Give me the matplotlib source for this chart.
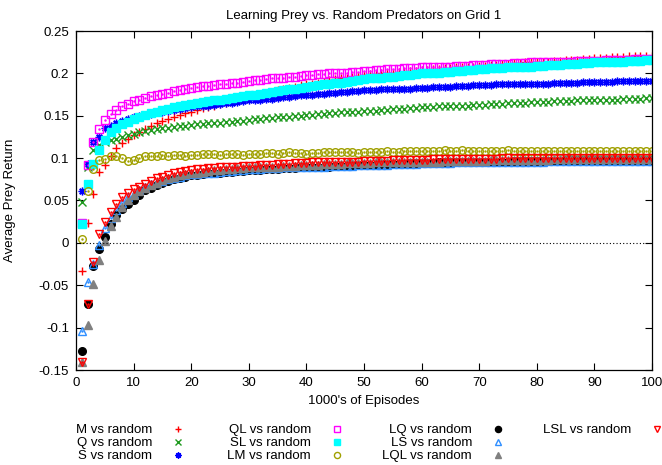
import matplotlib
matplotlib.use("Agg")
import matplotlib.pyplot as plt
from matplotlib.ticker import FormatStrFormatter, MultipleLocator
import numpy as np

plt.rcParams['font.family'] = ['Liberation Sans', 'DejaVu Sans']

episodes = list(range(1, 101))

m_vs_random = [
    -0.033, 0.024, 0.058, 0.084, 0.092, 0.102, 0.112, 0.118, 0.122, 0.127,
    0.131, 0.134, 0.138, 0.141, 0.144, 0.146, 0.149, 0.151, 0.153, 0.155,
    0.157, 0.159, 0.160, 0.162, 0.164, 0.165, 0.167, 0.168, 0.170, 0.172,
    0.173, 0.175, 0.176, 0.178, 0.180, 0.181, 0.183, 0.184, 0.186, 0.187,
    0.188, 0.189, 0.190, 0.192, 0.193, 0.194, 0.195, 0.196, 0.197, 0.198,
    0.199, 0.199, 0.200, 0.201, 0.201, 0.202, 0.202, 0.203, 0.203, 0.204,
    0.204, 0.205, 0.205, 0.206, 0.206, 0.207, 0.207, 0.208, 0.208, 0.209,
    0.209, 0.210, 0.210, 0.211, 0.211, 0.212, 0.212, 0.213, 0.213, 0.214,
    0.214, 0.214, 0.215, 0.215, 0.216, 0.216, 0.216, 0.217, 0.217, 0.218,
    0.218, 0.218, 0.219, 0.219, 0.219, 0.220, 0.220, 0.220, 0.221, 0.221]

q_vs_random = [
    0.048, 0.090, 0.110, 0.116, 0.119, 0.121, 0.123, 0.125, 0.127, 0.129,
    0.131, 0.132, 0.133, 0.134, 0.135, 0.136, 0.137, 0.138, 0.138, 0.139,
    0.140, 0.140, 0.141, 0.141, 0.142, 0.143, 0.143, 0.144, 0.144, 0.145,
    0.146, 0.146, 0.147, 0.147, 0.148, 0.148, 0.149, 0.150, 0.150, 0.151,
    0.151, 0.152, 0.152, 0.153, 0.153, 0.154, 0.154, 0.155, 0.155, 0.156,
    0.156, 0.156, 0.157, 0.157, 0.158, 0.158, 0.158, 0.159, 0.159, 0.160,
    0.160, 0.160, 0.161, 0.161, 0.161, 0.162, 0.162, 0.162, 0.163, 0.163,
    0.163, 0.164, 0.164, 0.164, 0.165, 0.165, 0.165, 0.165, 0.166, 0.166,
    0.166, 0.166, 0.167, 0.167, 0.167, 0.167, 0.168, 0.168, 0.168, 0.168,
    0.169, 0.169, 0.169, 0.169, 0.170, 0.170, 0.170, 0.170, 0.171, 0.171]

s_vs_random = [
    0.061, 0.093, 0.119, 0.125, 0.135, 0.138, 0.141, 0.144, 0.146, 0.148,
    0.150, 0.151, 0.152, 0.154, 0.155, 0.156, 0.157, 0.158, 0.159, 0.160,
    0.161, 0.162, 0.162, 0.163, 0.164, 0.165, 0.165, 0.166, 0.167, 0.168,
    0.168, 0.169, 0.170, 0.170, 0.171, 0.172, 0.172, 0.173, 0.174, 0.175,
    0.175, 0.176, 0.176, 0.177, 0.177, 0.178, 0.178, 0.179, 0.179, 0.180,
    0.180, 0.180, 0.181, 0.181, 0.181, 0.182, 0.182, 0.182, 0.183, 0.183,
    0.183, 0.184, 0.184, 0.184, 0.184, 0.185, 0.185, 0.185, 0.186, 0.186,
    0.186, 0.186, 0.187, 0.187, 0.187, 0.187, 0.187, 0.188, 0.188, 0.188,
    0.188, 0.188, 0.189, 0.189, 0.189, 0.189, 0.189, 0.190, 0.190, 0.190,
    0.190, 0.190, 0.190, 0.191, 0.191, 0.191, 0.191, 0.191, 0.191, 0.191]

ql_vs_random = [
    0.023, 0.092, 0.119, 0.134, 0.145, 0.152, 0.157, 0.161, 0.164, 0.167,
    0.169, 0.171, 0.173, 0.174, 0.176, 0.177, 0.179, 0.180, 0.181, 0.183,
    0.184, 0.185, 0.185, 0.186, 0.187, 0.188, 0.189, 0.189, 0.190, 0.191,
    0.192, 0.192, 0.193, 0.194, 0.194, 0.195, 0.196, 0.196, 0.197, 0.198,
    0.198, 0.199, 0.199, 0.200, 0.200, 0.201, 0.201, 0.202, 0.202, 0.203,
    0.203, 0.204, 0.204, 0.205, 0.205, 0.205, 0.206, 0.206, 0.206, 0.207,
    0.207, 0.207, 0.208, 0.208, 0.208, 0.209, 0.209, 0.209, 0.210, 0.210,
    0.210, 0.211, 0.211, 0.211, 0.211, 0.212, 0.212, 0.212, 0.213, 0.213,
    0.213, 0.213, 0.214, 0.214, 0.214, 0.214, 0.215, 0.215, 0.215, 0.215,
    0.215, 0.216, 0.216, 0.216, 0.216, 0.216, 0.217, 0.217, 0.217, 0.217]

sl_vs_random = [
    0.022, 0.070, 0.093, 0.110, 0.121, 0.131, 0.135, 0.140, 0.143, 0.146,
    0.149, 0.151, 0.153, 0.155, 0.157, 0.158, 0.160, 0.161, 0.163, 0.164,
    0.165, 0.166, 0.167, 0.168, 0.169, 0.170, 0.171, 0.172, 0.173, 0.174,
    0.175, 0.176, 0.177, 0.178, 0.179, 0.180, 0.181, 0.182, 0.183, 0.184,
    0.185, 0.186, 0.187, 0.188, 0.189, 0.189, 0.190, 0.191, 0.192, 0.193,
    0.194, 0.194, 0.195, 0.196, 0.196, 0.197, 0.198, 0.198, 0.199, 0.200,
    0.200, 0.201, 0.201, 0.202, 0.202, 0.203, 0.203, 0.204, 0.204, 0.205,
    0.205, 0.206, 0.206, 0.206, 0.207, 0.207, 0.208, 0.208, 0.208, 0.209,
    0.209, 0.210, 0.210, 0.210, 0.211, 0.211, 0.211, 0.212, 0.212, 0.213,
    0.213, 0.213, 0.214, 0.214, 0.214, 0.215, 0.215, 0.215, 0.216, 0.216]

lm_vs_random = [
    0.005, 0.061, 0.087, 0.098, 0.099, 0.102, 0.102, 0.100, 0.097, 0.098,
    0.100, 0.102, 0.103, 0.103, 0.104, 0.103, 0.104, 0.104, 0.103, 0.104,
    0.104, 0.105, 0.105, 0.105, 0.104, 0.105, 0.105, 0.105, 0.104, 0.105,
    0.105, 0.105, 0.106, 0.106, 0.105, 0.106, 0.107, 0.106, 0.106, 0.105,
    0.106, 0.106, 0.107, 0.107, 0.107, 0.107, 0.107, 0.107, 0.106, 0.107,
    0.107, 0.107, 0.107, 0.108, 0.107, 0.107, 0.108, 0.108, 0.108, 0.108,
    0.108, 0.108, 0.108, 0.109, 0.108, 0.108, 0.109, 0.108, 0.108, 0.108,
    0.108, 0.108, 0.108, 0.108, 0.109, 0.108, 0.108, 0.108, 0.108, 0.108,
    0.108, 0.108, 0.108, 0.108, 0.108, 0.108, 0.108, 0.108, 0.108, 0.108,
    0.108, 0.108, 0.108, 0.108, 0.108, 0.108, 0.108, 0.108, 0.108, 0.108]

lq_vs_random = [
    -0.127, -0.072, -0.027, -0.007, 0.007, 0.022, 0.033, 0.040, 0.046, 0.051,
    0.057, 0.062, 0.065, 0.068, 0.071, 0.073, 0.075, 0.077, 0.078, 0.080,
    0.080, 0.081, 0.082, 0.082, 0.083, 0.084, 0.084, 0.085, 0.085, 0.086,
    0.086, 0.086, 0.087, 0.087, 0.087, 0.088, 0.088, 0.088, 0.089, 0.089,
    0.089, 0.090, 0.090, 0.090, 0.091, 0.091, 0.091, 0.091, 0.092, 0.092,
    0.092, 0.092, 0.093, 0.093, 0.093, 0.093, 0.093, 0.094, 0.094, 0.094,
    0.094, 0.094, 0.095, 0.095, 0.095, 0.095, 0.095, 0.095, 0.096, 0.096,
    0.096, 0.096, 0.096, 0.096, 0.096, 0.097, 0.097, 0.097, 0.097, 0.097,
    0.097, 0.097, 0.097, 0.097, 0.098, 0.098, 0.098, 0.098, 0.098, 0.098,
    0.098, 0.098, 0.098, 0.098, 0.098, 0.098, 0.098, 0.098, 0.098, 0.098]

ls_vs_random = [
    -0.104, -0.046, -0.025, -0.002, 0.017, 0.029, 0.039, 0.047, 0.054, 0.058,
    0.062, 0.066, 0.069, 0.071, 0.073, 0.075, 0.077, 0.078, 0.080, 0.081,
    0.081, 0.082, 0.083, 0.083, 0.084, 0.085, 0.085, 0.086, 0.086, 0.087,
    0.087, 0.087, 0.088, 0.088, 0.088, 0.089, 0.089, 0.089, 0.089, 0.090,
    0.090, 0.090, 0.090, 0.091, 0.091, 0.091, 0.091, 0.091, 0.092, 0.092,
    0.092, 0.092, 0.092, 0.092, 0.093, 0.093, 0.093, 0.093, 0.093, 0.094,
    0.094, 0.094, 0.094, 0.094, 0.094, 0.095, 0.095, 0.095, 0.095, 0.095,
    0.095, 0.095, 0.096, 0.096, 0.096, 0.096, 0.096, 0.096, 0.096, 0.096,
    0.096, 0.097, 0.097, 0.097, 0.097, 0.097, 0.097, 0.097, 0.097, 0.097,
    0.097, 0.097, 0.097, 0.097, 0.097, 0.097, 0.097, 0.097, 0.097, 0.097]

lql_vs_random = [
    -0.140, -0.097, -0.048, -0.020, 0.002, 0.020, 0.031, 0.042, 0.050, 0.056,
    0.061, 0.065, 0.068, 0.071, 0.074, 0.076, 0.078, 0.080, 0.081, 0.083,
    0.083, 0.084, 0.085, 0.086, 0.086, 0.087, 0.087, 0.088, 0.088, 0.089,
    0.089, 0.089, 0.090, 0.090, 0.090, 0.091, 0.091, 0.091, 0.092, 0.092,
    0.092, 0.092, 0.093, 0.093, 0.093, 0.093, 0.094, 0.094, 0.094, 0.094,
    0.094, 0.095, 0.095, 0.095, 0.095, 0.095, 0.096, 0.096, 0.096, 0.096,
    0.096, 0.096, 0.096, 0.097, 0.097, 0.097, 0.097, 0.097, 0.097, 0.097,
    0.097, 0.098, 0.098, 0.098, 0.098, 0.098, 0.098, 0.098, 0.098, 0.098,
    0.098, 0.098, 0.099, 0.099, 0.099, 0.099, 0.099, 0.099, 0.099, 0.099,
    0.099, 0.099, 0.099, 0.099, 0.099, 0.099, 0.099, 0.099, 0.099, 0.099]

lsl_vs_random = [
    -0.141, -0.072, -0.022, 0.011, 0.025, 0.037, 0.046, 0.054, 0.059, 0.063,
    0.066, 0.070, 0.073, 0.076, 0.078, 0.080, 0.082, 0.084, 0.085, 0.086,
    0.087, 0.087, 0.088, 0.088, 0.089, 0.089, 0.090, 0.090, 0.091, 0.091,
    0.091, 0.092, 0.092, 0.092, 0.093, 0.093, 0.093, 0.094, 0.094, 0.094,
    0.095, 0.095, 0.095, 0.095, 0.096, 0.096, 0.096, 0.096, 0.096, 0.097,
    0.097, 0.097, 0.097, 0.097, 0.098, 0.098, 0.098, 0.098, 0.098, 0.098,
    0.098, 0.099, 0.099, 0.099, 0.099, 0.099, 0.099, 0.099, 0.099, 0.099,
    0.099, 0.099, 0.099, 0.100, 0.100, 0.100, 0.100, 0.100, 0.100, 0.100,
    0.100, 0.100, 0.100, 0.100, 0.100, 0.100, 0.100, 0.100, 0.100, 0.100,
    0.100, 0.100, 0.100, 0.100, 0.100, 0.100, 0.100, 0.100, 0.100, 0.100]

labels = ["M vs random", "Q vs random", "S vs random",
          "QL vs random", "SL vs random", "LM vs random",
          "LQ vs random", "LS vs random", "LQL vs random",
          "LSL vs random"]

series = [m_vs_random, q_vs_random, s_vs_random, ql_vs_random, sl_vs_random,
          lm_vs_random, lq_vs_random, ls_vs_random, lql_vs_random, lsl_vs_random]

# style: (marker, color, filled, centre dot)
styles = [
    ('+', '#ff0000', True, False),
    ('x', '#1f9a1f', True, False),
    ((8, 2, 0), '#0000ff', True, False),
    ('s', '#ff00ff', False, True),
    ('s', '#00ffff', True, False),
    ('o', '#a0a000', False, True),
    ('o', '#000000', True, False),
    ('^', '#2f8fff', False, True),
    ('^', '#808080', True, False),
    ('v', '#ff0000', False, True),
]

W, H = 662, 465
fig = plt.figure(figsize=(W / 100, H / 100), dpi=100)
ax = fig.add_axes([76 / W, 1 - 370 / H, (652 - 76) / W, (370 - 31) / H])

handles = []
for vals, (mk, col, filled, dot) in zip(series, styles):
    if filled:
        h, = ax.plot(episodes, vals, linestyle='none', marker=mk, color=col,
                     markersize=5.5, markeredgewidth=1.0)
    else:
        h, = ax.plot(episodes, vals, linestyle='none', marker=mk,
                     markerfacecolor='none', markeredgecolor=col,
                     markersize=5.5, markeredgewidth=1.0)
    if dot:
        ax.plot(episodes, vals, linestyle='none', marker='.', color=col,
                markersize=1.5)
    handles.append(h)

ax.axhline(0, color='black', linestyle=(0, (1, 2)), linewidth=0.8)

ax.set_xlim(0, 100)
ax.set_ylim(-0.15, 0.25)
ax.xaxis.set_major_locator(MultipleLocator(10))
ax.yaxis.set_major_locator(MultipleLocator(0.05))
ax.yaxis.set_major_formatter(FormatStrFormatter('%g'))
ax.tick_params(direction='in', length=5, width=0.8, labelsize=9.5,
               top=True, right=True, pad=5)
for sp in ax.spines.values():
    sp.set_linewidth(0.9)

fs = 9.5
ax.set_title("Learning Prey vs. Random Predators on Grid 1", fontsize=fs, pad=9)
ax.set_xlabel("1000's of Episodes", fontsize=fs)
ax.xaxis.set_label_coords(0.5, -0.075)
ax.set_ylabel("Average Prey Return", fontsize=fs)
ax.yaxis.set_label_coords(-0.105, 0.5)

# legend: text right-aligned, key to the right (gnuplot style), 4 columns
marker_x = [178, 337, 498, 657]
row_y = [430, 443, 456]
hl = 1.0
pad_px = 26
for i, (h, lab) in enumerate(zip(handles, labels)):
    col, row = divmod(i, 3)
    xm = marker_x[col]
    ym = row_y[row]
    fs_px = fs * 100 / 72
    right = xm + hl * fs_px / 2
    tp = (pad_px + right - xm - hl * fs_px) / fs_px
    leg = fig.legend([h], [lab], loc='center right',
                     bbox_to_anchor=(right / W, 1 - ym / H),
                     bbox_transform=fig.transFigure, frameon=False,
                     markerfirst=False, numpoints=1, handlelength=hl,
                     handletextpad=tp, borderpad=0, borderaxespad=0,
                     markerscale=0.8, fontsize=fs)

fig.savefig("out.png", dpi=100)
